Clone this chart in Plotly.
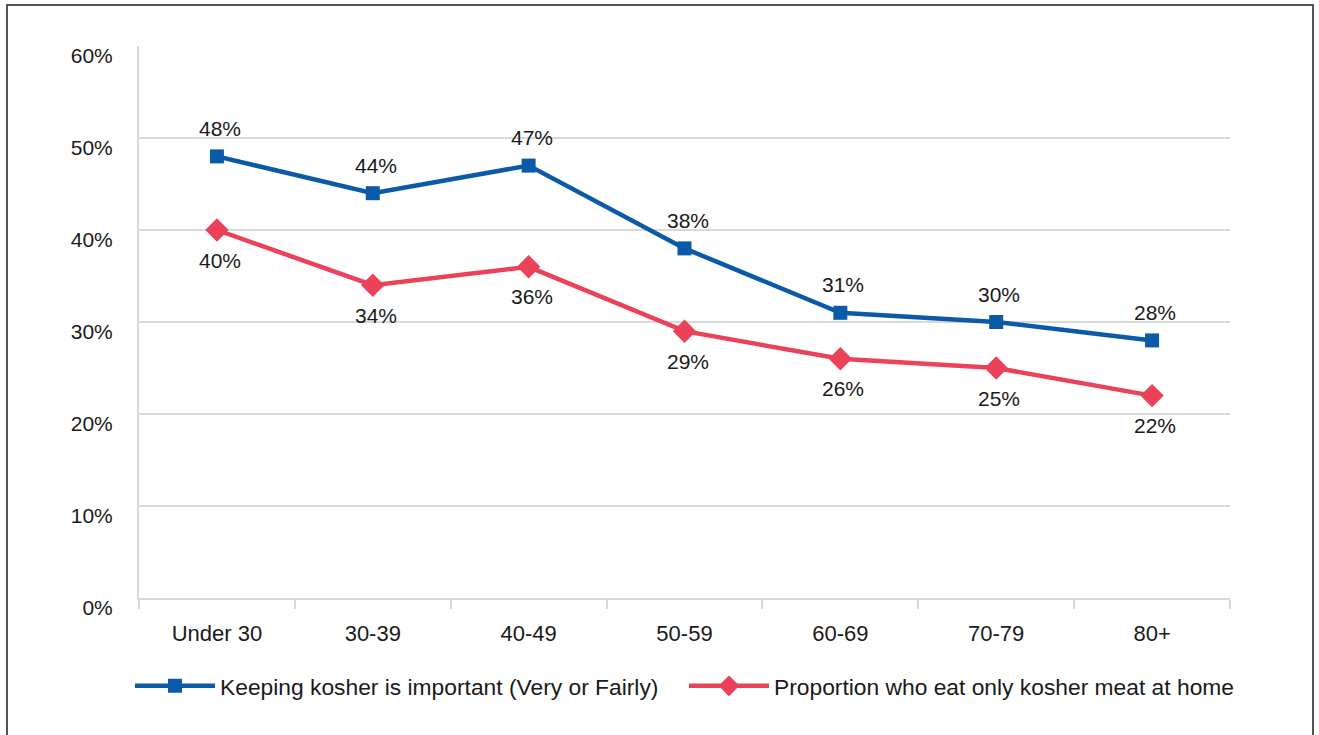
import plotly.graph_objects as go

categories = ["Under 30", "30-39", "40-49", "50-59", "60-69", "70-79", "80+"]
kosher_important = [48, 44, 47, 38, 31, 30, 28]
kosher_meat_home = [40, 34, 36, 29, 26, 25, 22]
series_names = ["Keeping kosher is important (Very or Fairly)",
                "Proportion who eat only kosher meat at home"]
y_ticks = [0, 10, 20, 30, 40, 50, 60]

BLUE = "#0b5aa8"
RED = "#eb4159"
GRID = "#d9d9d9"
FONT = "Liberation Sans, Arial, sans-serif"
TXT = "#1a1a1a"

W, H = 1319, 735
ML, MR, MT, MB = 139, 89, 46, 137
pw, ph = W - ML - MR, H - MT - MB

fig = go.Figure()
fig.add_trace(go.Scatter(
    x=categories, y=kosher_important, name=series_names[0], mode="lines+markers",
    line=dict(color=BLUE, width=4.5), marker=dict(symbol="square", size=14, color=BLUE),
))
fig.add_trace(go.Scatter(
    x=categories, y=kosher_meat_home, name=series_names[1], mode="lines+markers",
    line=dict(color=RED, width=4.5), marker=dict(symbol="diamond", size=18, color=RED),
))

annotations = []
for c, v in zip(categories, kosher_important):
    annotations.append(dict(x=c, y=v, text=f"{v}%", showarrow=False, yshift=28, xshift=3,
                            font=dict(size=21, color=TXT, family=FONT)))
for c, v in zip(categories, kosher_meat_home):
    annotations.append(dict(x=c, y=v, text=f"{v}%", showarrow=False, yshift=-30, xshift=3,
                            font=dict(size=21, color=TXT, family=FONT)))

def px_x(p):
    return (p - ML) / pw

def px_y(p):
    return (H - MB - p) / ph

ITEMW = 80
fig.update_layout(
    width=W, height=H,
    margin=dict(l=ML, r=MR, t=MT, b=MB),
    paper_bgcolor="white", plot_bgcolor="white",
    font=dict(family=FONT, size=21, color=TXT),
    showlegend=True,
    legend=dict(orientation="h", x=px_x(130), xanchor="left", y=px_y(686), yanchor="middle",
                font=dict(size=22.8, family=FONT, color=TXT),
                entrywidth=555 - ITEMW - 16, entrywidthmode="pixels", itemwidth=ITEMW,
                traceorder="normal", bgcolor="rgba(0,0,0,0)"),
    annotations=annotations,
    shapes=[dict(type="rect", xref="paper", yref="paper",
                 x0=px_x(7), x1=px_x(1313), y0=px_y(760), y1=px_y(5),
                 line=dict(color="#555555", width=2), fillcolor="rgba(0,0,0,0)", layer="below")],
)
fig.update_xaxes(
    type="category", range=[-0.5, len(categories) - 0.5],
    showgrid=False, showline=True, linecolor=GRID, linewidth=2,
    ticks="outside", tickson="boundaries", ticklen=9, tickcolor=GRID, tickwidth=2,
    tickfont=dict(size=22, family=FONT, color=TXT), ticklabelstandoff=15,
    zeroline=False, fixedrange=True,
)
fig.update_yaxes(
    range=[0, 60], tickvals=y_ticks, ticktext=[f"{t}%" for t in y_ticks],
    showgrid=True, gridcolor=GRID, gridwidth=2, showline=True, linecolor=GRID, linewidth=2,
    ticks="", tickfont=dict(size=21, family=FONT, color=TXT),
    ticklabelstandoff=20, ticklabelshift=10, zeroline=False, fixedrange=True,
)

fig.write_html("out.html", config={"displayModeBar": False},
               post_script="document.body.style.margin='0';")
